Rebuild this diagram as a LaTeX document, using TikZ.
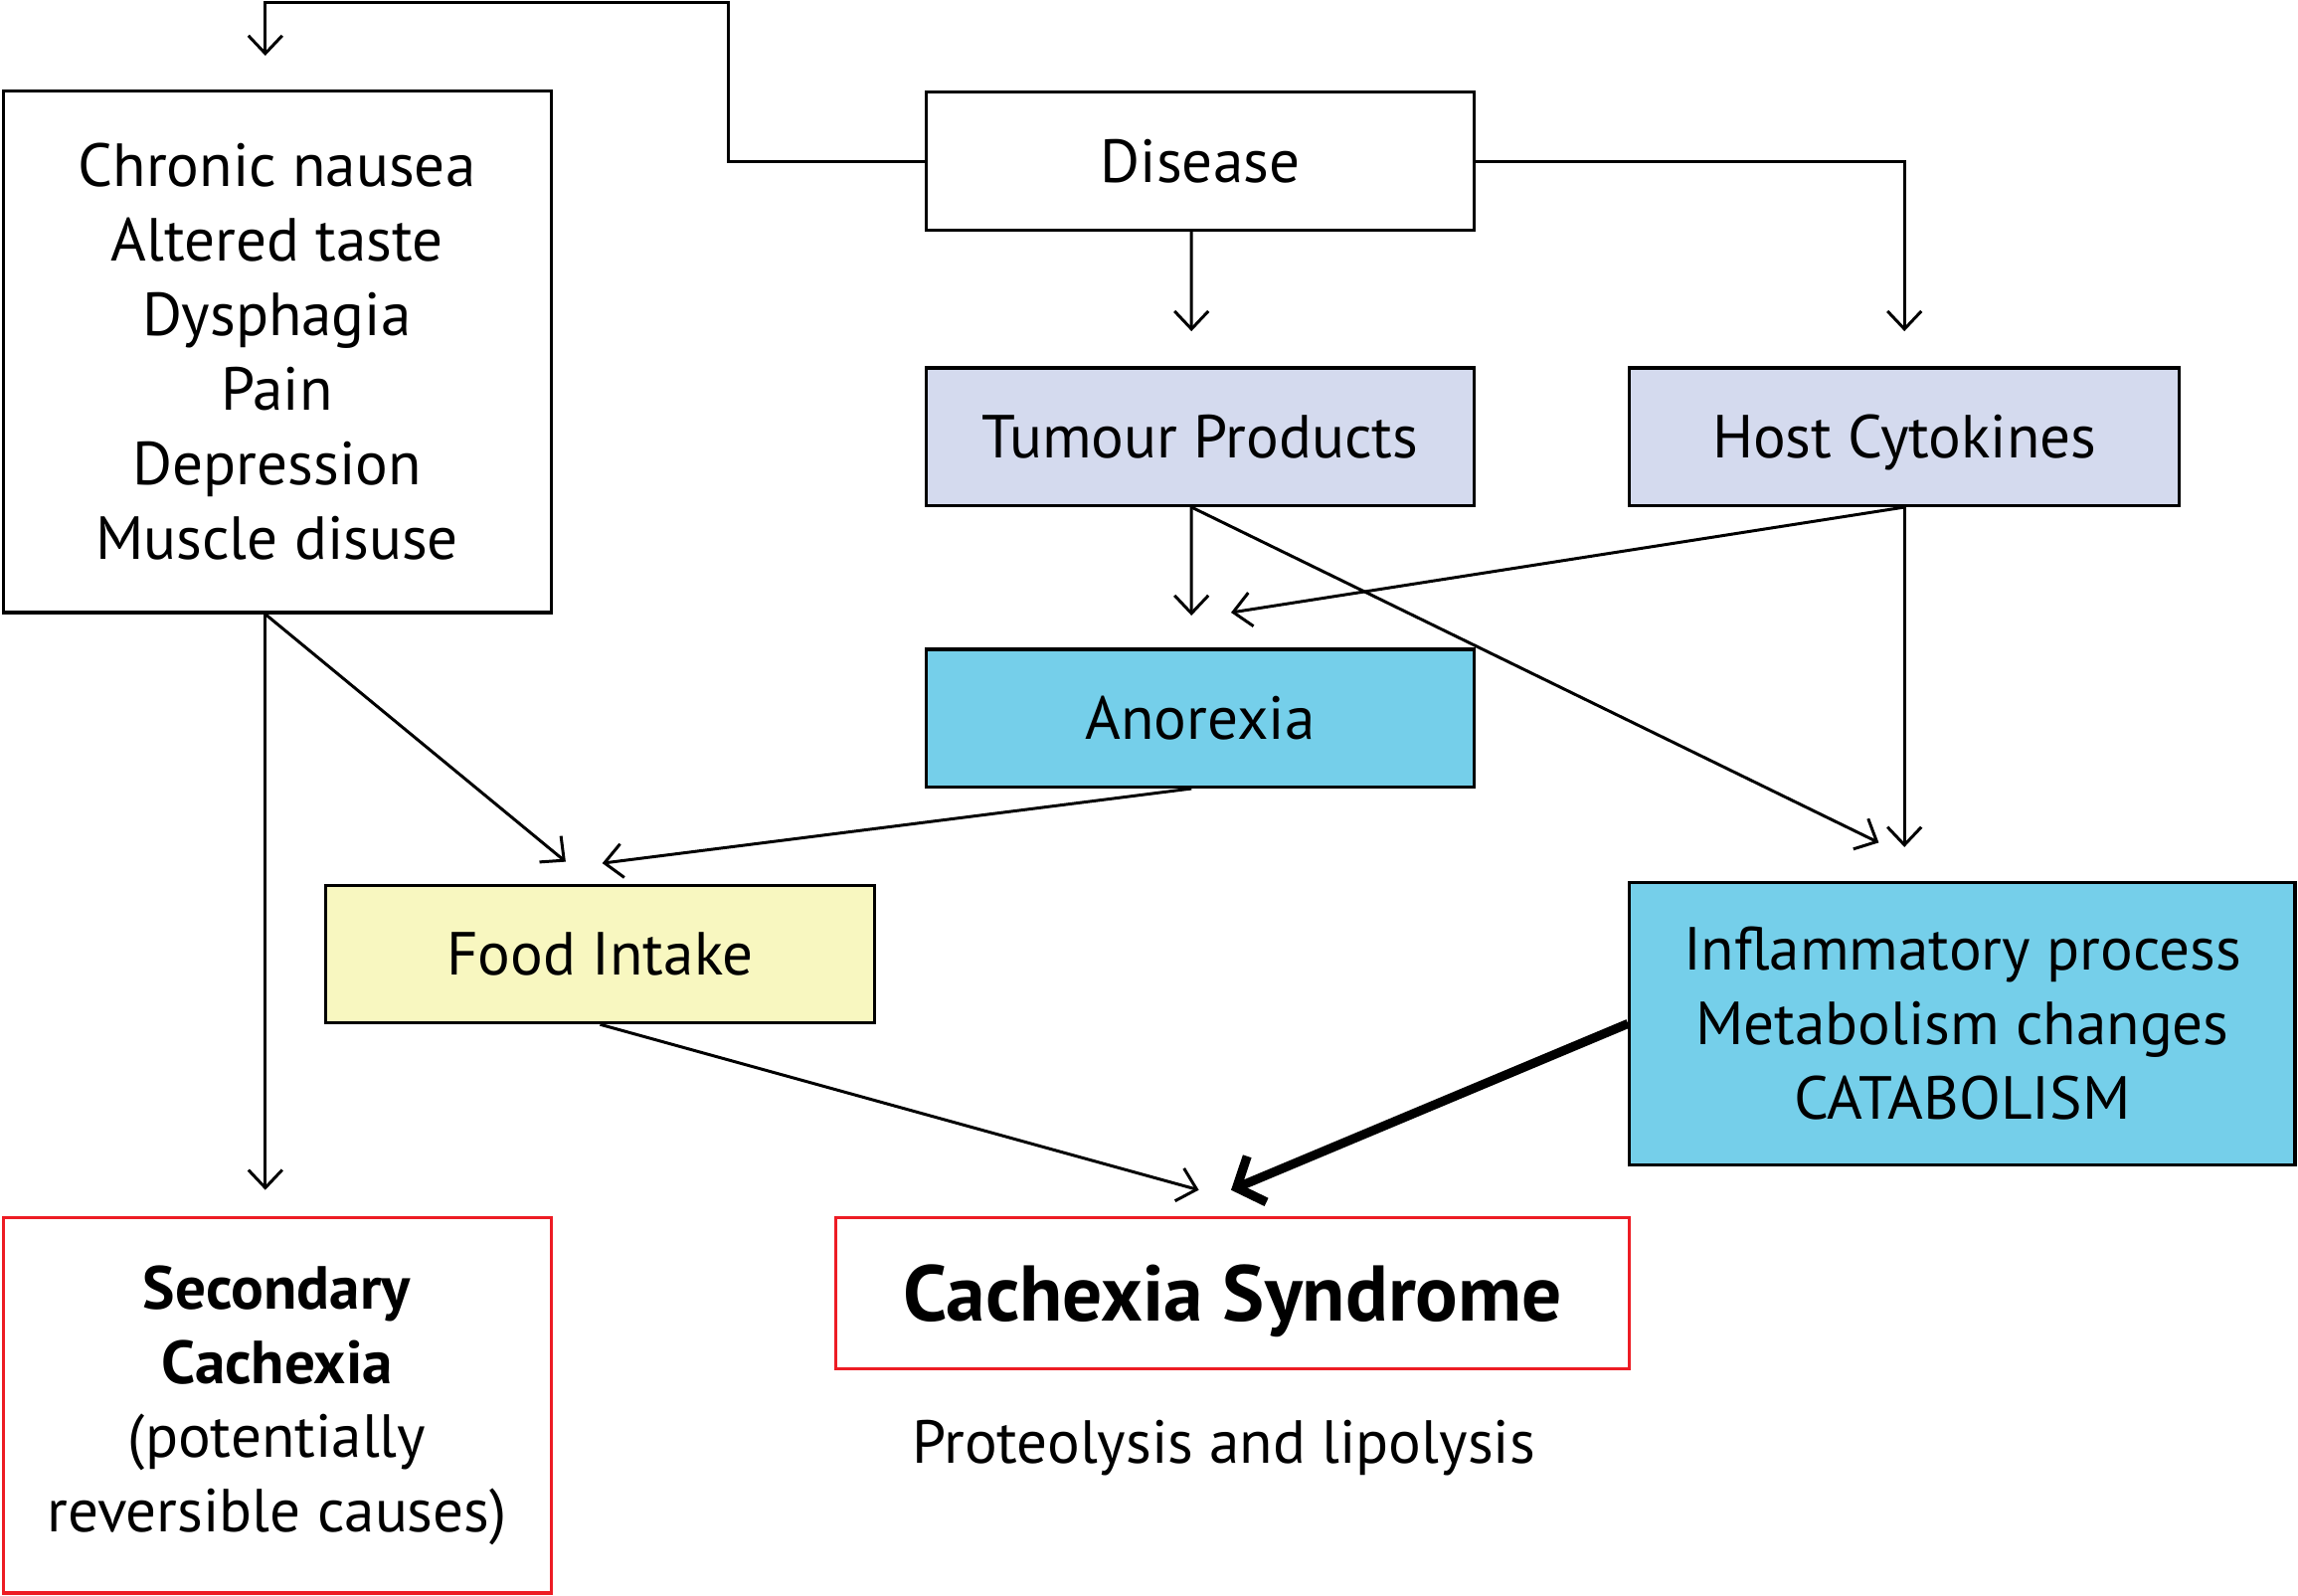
\documentclass[tikz,border=0pt]{standalone}
\usepackage{fontspec}
\setmainfont{PT Sans}
\definecolor{mylavender}{RGB}{212,218,238}
\definecolor{myblue}{RGB}{117,207,234}
\definecolor{myyellow}{RGB}{248,247,192}
\definecolor{myred}{RGB}{237,28,36}
\usetikzlibrary{arrows.meta, positioning, calc}
\tikzset{
    box/.style={
           rectangle,
           draw=black, line width=0.9pt,
           minimum width=5.51cm,
           minimum height=1.385cm,
           inner sep=2pt,
           align=center,
           font=\fontsize{17.4}{21.3}\selectfont,
           },
    oneline/.style={text depth=0pt},
    redbox/.style={box, draw=myred},
    arr/.style={-{Straight Barb[length=1.8mm, width=3.4mm]}, line width=0.85pt},
    bigarr/.style={-{Straight Barb[length=2.2mm, width=5mm]}, line width=2.6pt},
}
\newcommand{\titletext}[1]{\fontsize{22.6}{26}\selectfont\bfseries #1}

\begin{document}
\begin{tikzpicture}
      \useasboundingbox (0,0) rectangle (23.11,-16.05);
      \node[box, minimum height=5.247cm]                    (sym)  at ( 2.786,  -3.537) {Chronic nausea\\Altered taste\\Dysphagia\\Pain\\Depression\\Muscle disuse};
      \node[box, oneline]                                   (dis)  at (12.070,  -1.621) {Disease};
      \node[box, oneline, fill=mylavender]                  (tum)  at (12.070,  -4.392) {Tumour Products};
      \node[box, oneline, fill=mylavender, minimum width=5.527cm] (host) at (19.152, -4.392) {Host Cytokines};
      \node[box, oneline, fill=myblue]                      (ano)  at (12.070,  -7.222) {Anorexia};
      \node[box, oneline, fill=myyellow, minimum width=5.527cm] (food) at ( 6.035, -9.594) {Food Intake};
      \node[box, fill=myblue, minimum width=6.691cm, minimum height=2.844cm] (infl) at (19.734, -10.294) {Inflammatory process\\Metabolism changes\\CATABOLISM};
      \node[redbox, minimum height=3.773cm]                 (sec)  at ( 2.786, -14.134) {\textbf{Secondary}\\\textbf{Cachexia}\\(potentially\\reversible causes)};
      \node[redbox, oneline, minimum width=7.988cm, minimum height=1.518cm] (cach) at (12.395, -13.006) {\titletext{Cachexia Syndrome}};
      \node[font=\fontsize{17.4}{21.3}\selectfont]          (prot) at (12.306, -14.561) {Proteolysis and lipolysis};
      \coordinate (jog)      at ( 7.325,  -0.029);
      \coordinate (symIn)    at ( 2.668,  -0.560);
      \coordinate (tumIn)    at (11.982,  -3.331);
      \coordinate (hostIn)   at (19.152,  -3.331);
      \coordinate (anoInA)   at (11.982,  -6.190);
      \coordinate (anoInB)   at (12.380,  -6.160);
      \coordinate (inflInA)  at (18.894,  -8.474);
      \coordinate (inflInB)  at (19.152,  -8.519);
      \coordinate (secIn)    at ( 2.668, -11.967);
      \coordinate (foodInA)  at ( 5.689,  -8.666);
      \coordinate (foodInB)  at ( 6.057,  -8.681);
      \coordinate (cachInA)  at (12.056, -11.967);
      \coordinate (cachInB)  at (12.380, -11.967);
      \draw[arr] (dis.west) -| (jog) -| (symIn);
      \draw[arr] ([xshift=-0.088cm]dis.south) -- (tumIn);
      \draw[arr] (dis.east) -| (hostIn);
      \draw[arr] ([xshift=-0.088cm]tum.south) -- (anoInA);
      \draw[arr] ([xshift=-0.088cm]tum.south) -- (inflInA);
      \draw[arr] (host.south) -- (anoInB);
      \draw[arr] (host.south) -- (inflInB);
      \draw[arr] ([xshift=-0.118cm]sym.south) -- (secIn);
      \draw[arr] ([xshift=-0.118cm]sym.south) -- (foodInA);
      \draw[arr] ([xshift=-0.088cm]ano.south) -- (foodInB);
      \draw[arr] (food.south) -- (cachInA);
      \draw[bigarr] (infl.west) -- (cachInB);
    \end{tikzpicture}
\end{document}
